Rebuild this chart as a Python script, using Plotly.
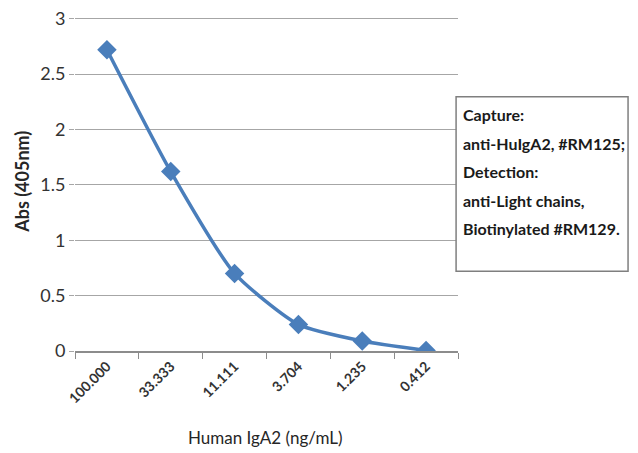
import plotly.graph_objects as go

concentrations = ["100.000", "33.333", "11.111", "3.704", "1.235", "0.412"]
absorbance = [2.72, 1.62, 0.70, 0.24, 0.09, 0.005]
y_ticks = [0, 0.5, 1, 1.5, 2, 2.5, 3]
y_tick_text = ["0", "0.5", "1", "1.5", "2", "2.5", "3"]
box_lines = ["Capture:", "anti-HuIgA2, #RM125;", "Detection:",
             "anti-Light chains,", "Biotinylated #RM129."]

blue = "#4a7ebb"
grey = "#8c8c8c"

fig = go.Figure()
fig.add_trace(go.Scatter(
    x=concentrations, y=absorbance,
    mode="lines+markers",
    line=dict(color=blue, width=3.5, shape="spline", smoothing=0.6),
    marker=dict(symbol="diamond", size=15, color=blue),
    showlegend=False,
    hoverinfo="x+y",
))

# note box on the right
fig.add_shape(type="rect", xref="paper", yref="paper",
              x0=0.995, x1=1.444, y0=0.239, y1=0.761,
              line=dict(color="#7f7f7f", width=1.5), fillcolor="white")
for i, txt in enumerate(box_lines):
    fig.add_annotation(
        text="<b>" + txt + "</b>", xref="paper", yref="paper",
        x=1.008, y=0.707 - i * 0.0852,
        xanchor="left", yanchor="middle", showarrow=False,
        font=dict(family="Lato, sans-serif", size=16, color="#1a1a1a"),
    )

# axis titles as annotations so the plot area stays fixed
fig.add_annotation(
    text="<b>Abs (405nm)</b>", xref="paper", yref="paper",
    x=-0.138, y=0.507, textangle=-90, showarrow=False,
    xanchor="center", yanchor="middle",
    font=dict(family="Lato, sans-serif", size=18, color="#262626"),
)
fig.add_annotation(
    text="Human IgA2 (ng/mL)", xref="paper", yref="paper",
    x=0.497, y=-0.26, showarrow=False,
    xanchor="center", yanchor="middle",
    font=dict(family="Lato, sans-serif", size=17, color="#262626"),
)

# page body adds 8px offset, so margins are shifted to compensate
fig.update_layout(
    width=638, height=453,
    margin=dict(l=67, r=188, t=9, b=110),
    paper_bgcolor="white", plot_bgcolor="white",
    font=dict(family="Lato, sans-serif", color="#404040"),
    xaxis=dict(
        type="category", range=[-0.5, 5.5], automargin=False,
        tickson="boundaries", ticks="outside", ticklen=6, tickcolor=grey,
        showline=True, linecolor=grey, linewidth=1.5,
        showgrid=False, tickangle=-45,
        tickprefix="<b>", ticksuffix="</b>",
        tickfont=dict(size=14, color="#333333"),
    ),
    yaxis=dict(
        range=[0, 3.015], tickvals=y_ticks, ticktext=y_tick_text, automargin=False,
        showgrid=True, gridcolor="#a6a6a6", gridwidth=1,
        zeroline=False, showline=False, ticklabeloverflow="allow",
        ticks="outside", ticklen=5, tickcolor="#a6a6a6",
        tickfont=dict(size=18, color="#333333"),
    ),
)

fig.write_html("out.html")
